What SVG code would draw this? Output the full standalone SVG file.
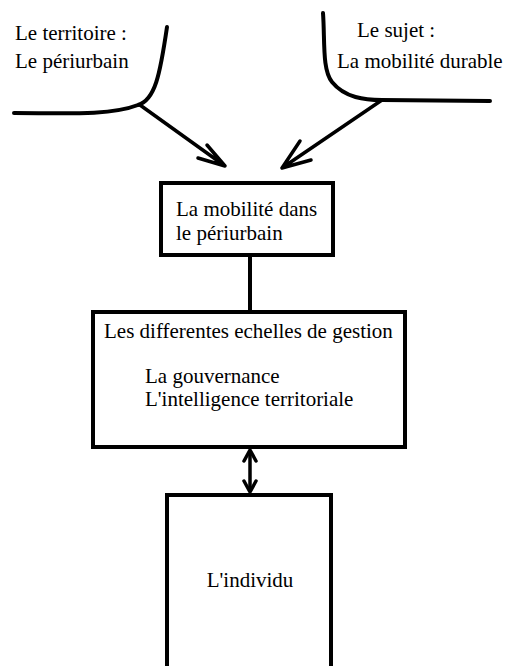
<svg xmlns="http://www.w3.org/2000/svg" width="507" height="666" viewBox="0 0 507 666">
<style>
text{font-family:"Liberation Serif","Times New Roman",serif;font-size:21px;fill:#000}
.box{fill:#fff;stroke:#000;stroke-width:4}
.ln{fill:none;stroke:#000;stroke-width:4;stroke-linecap:round;stroke-linejoin:round}
.ar{fill:none;stroke:#000;stroke-width:3.5;stroke-linecap:round;stroke-linejoin:round}
</style>
<rect width="507" height="666" fill="#fff"/>
<g id="territoire">
<path class="ln" d="M167,27 C160,75 155,100 138,105 C110,116 60,113 14,113"/>
<text x="15" y="40">Le territoire :</text>
<text x="15" y="68">Le périurbain</text>
</g>
<g id="sujet">
<path class="ln" d="M323,13 C325,40 322,70 332,82 C345,98 365,100 382,100 L490,101"/>
<text x="357" y="37">Le sujet :</text>
<text x="337" y="68">La mobilité durable</text>
</g>
<g id="mobilite">
<rect class="box" x="161" y="183" width="172" height="72"/>
<text x="176" y="216">La mobilité dans</text>
<text x="176" y="240">le périurbain</text>
</g>
<g id="echelles">
<rect class="box" x="93" y="312" width="312" height="135"/>
<text x="104" y="338">Les differentes echelles de gestion</text>
<text x="145" y="383">La gouvernance</text>
<text x="145" y="406">L'intelligence territoriale</text>
</g>
<g id="individu">
<path class="box" d="M167,670 L167,495 L331,495 L331,670"/>
<text x="250" y="587" text-anchor="middle">L'individu</text>
</g>
<g id="connectors">
<path class="ar" d="M140,105 L225,166 M207,145 L225,166 L198,158"/>
<path class="ar" d="M382,100 L282,168 M300,141 L282,168 L311,160"/>
<line x1="250" y1="255" x2="250" y2="312" stroke="#000" stroke-width="4"/>
<line x1="250" y1="450" x2="250" y2="492" stroke="#000" stroke-width="3.5"/>
<path class="ar" d="M244,461 L250,450 L256,461 M244,481 L250,492 L256,481"/>
</g>
</svg>
